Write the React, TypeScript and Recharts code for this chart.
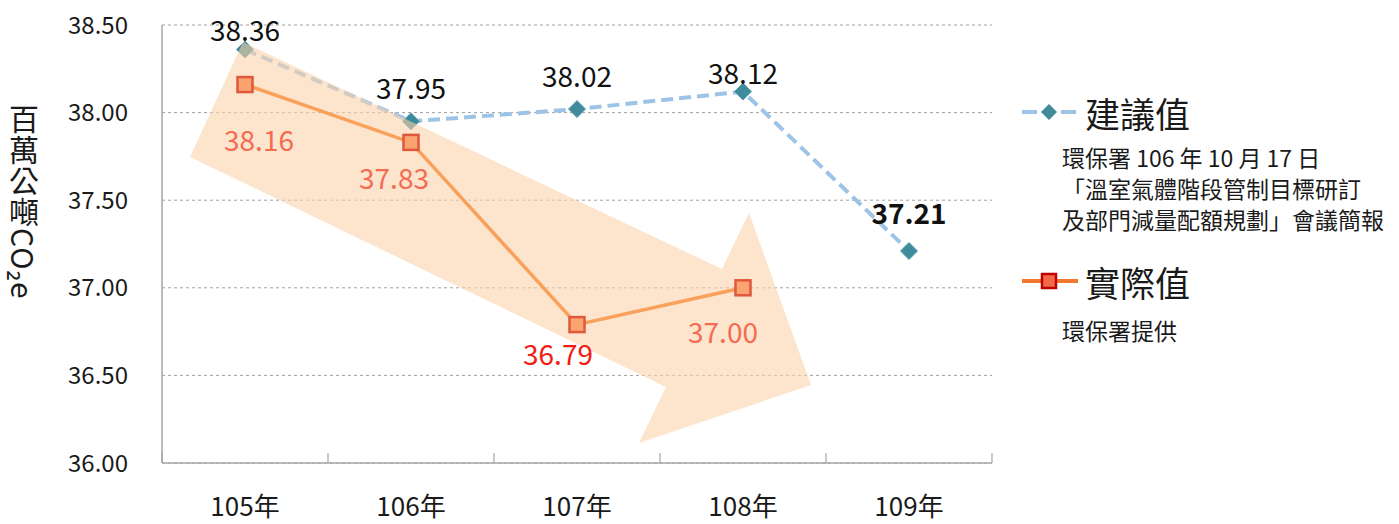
import React from "react";
import {
  ComposedChart,
  Line,
  XAxis,
  YAxis,
  CartesianGrid,
  LabelList,
  Customized,
} from "recharts";

// ---------- data ----------
const categories = ["105年", "106年", "107年", "108年", "109年"];
const suggested = [38.36, 37.95, 38.02, 38.12, 37.21];
const actual: (number | null)[] = [38.16, 37.83, 36.79, 37.0, null];
const yTicks = [36.0, 36.5, 37.0, 37.5, 38.0, 38.5];

// trend arrow annotation, in data space (category index, value)
const arrowIdx = [-0.012, 2.873, 3.036, 3.41, 2.373, 2.536, -0.331];
const arrowVal = [38.403, 37.107, 37.427, 36.445, 36.114, 36.434, 37.747];

const chartData = categories.map((c, i) => ({
  year: c,
  suggested: suggested[i],
  actual: actual[i],
}));

// ---------- layout constants ----------
const FONT = '"Noto Sans CJK TC", "Noto Sans", sans-serif';
const CHART_W = 1000;
const CHART_H = 524;
const MARGIN = { top: 25, right: 8, bottom: 0, left: 0 };
const Y_AXIS_W = 162;
const X_AXIS_H = 61;
const PLOT_L = MARGIN.left + Y_AXIS_W;
const PLOT_R = CHART_W - MARGIN.right;
const PLOT_T = MARGIN.top;
const PLOT_B = CHART_H - MARGIN.bottom - X_AXIS_H;
const BAND = (PLOT_R - PLOT_L) / categories.length;
const Y_MIN = 36;
const Y_MAX = 38.5;

const px = (i: number) => PLOT_L + (i + 0.5) * BAND;
const py = (v: number) => PLOT_T + ((Y_MAX - v) / (Y_MAX - Y_MIN)) * (PLOT_B - PLOT_T);

// label styling (offsets)
const blueDy = [-21, -34, -34, -20, -39];
const orangeDx = [14, -17, -19, -20];
const orangeDy = [54, 35, 28, 43];
const orangeColors = ["#f46b52", "#f46b52", "#f21c14", "#f46b52"];

const TrendArrow = () => {
  const pts = arrowIdx.map((i, k) => `${px(i)},${py(arrowVal[k])}`).join(" ");
  return <polygon points={pts} fill="#fbd0a8" fillOpacity={0.58} stroke="none" />;
};

const XTick = (props: any) => {
  const { x, payload, index } = props;
  return (
    <g>
      <line x1={x - BAND / 2} x2={x - BAND / 2} y1={PLOT_B} y2={PLOT_B - 10} stroke="#a6a6a6" strokeWidth={1.2} />
      {index === categories.length - 1 && (
        <line x1={x + BAND / 2} x2={x + BAND / 2} y1={PLOT_B} y2={PLOT_B - 10} stroke="#a6a6a6" strokeWidth={1.2} />
      )}
      <text
        x={x}
        y={PLOT_B + 53}
        textAnchor="middle"
        fontSize={26}
        fontFamily={FONT}
        fill="#1a1a1a"
      >
        {payload.value}
      </text>
    </g>
  );
};

const Diamond = (props: any) => {
  const { cx, cy } = props;
  if (cx == null || cy == null) return null;
  const r = 8.5;
  return (
    <polygon
      points={`${cx},${cy - r} ${cx + r},${cy} ${cx},${cy + r} ${cx - r},${cy}`}
      fill="#3f8a9b"
      stroke="#5aa0b0"
      strokeWidth={1}
    />
  );
};

const Square = (props: any) => {
  const { cx, cy } = props;
  if (cx == null || cy == null) return null;
  const s = 15;
  return (
    <rect x={cx - s / 2} y={cy - s / 2} width={s} height={s} fill="#fba46f" stroke="#e0583c" strokeWidth={2.5} />
  );
};

const BlueLabel = (props: any) => {
  const { x, y, value, index } = props;
  return (
    <text
      x={x}
      y={y + blueDy[index]}
      textAnchor="middle"
      dominantBaseline="central"
      fontSize={28}
      fontFamily={FONT}
      fontWeight={index === 4 ? 700 : 400}
      fill="#111"
    >
      {Number(value).toFixed(2)}
    </text>
  );
};

const OrangeLabel = (props: any) => {
  const { x, y, value, index } = props;
  if (value == null) return null;
  return (
    <text
      x={x + orangeDx[index]}
      y={y + orangeDy[index]}
      textAnchor="middle"
      dominantBaseline="central"
      fontSize={28}
      fontFamily={FONT}
      fill={orangeColors[index]}
    >
      {Number(value).toFixed(2)}
    </text>
  );
};

const layer: React.CSSProperties = { position: "absolute", left: 0, top: 0 };

export default function App() {
  return (
    <div
      style={{
        position: "absolute",
        left: 0,
        top: 0,
        width: 1399,
        height: 524,
        background: "#fff",
        fontFamily: FONT,
        overflow: "hidden",
      }}
    >
      {/* base chart: grid, axes, suggested line */}
      <div style={layer}>
        <ComposedChart width={CHART_W} height={CHART_H} data={chartData} margin={MARGIN}>
          <CartesianGrid horizontal vertical={false} stroke="#a0a0a0" strokeDasharray="3 3" />
          <XAxis
            dataKey="year"
            scale="band"
            height={X_AXIS_H}
            axisLine={{ stroke: "#a6a6a6", strokeWidth: 1.5 }}
            tickLine={false}
            tickSize={0}
            tickMargin={0}
            tick={<XTick />}
            interval={0}
          />
          <YAxis
            domain={[Y_MIN, Y_MAX]}
            ticks={yTicks}
            width={Y_AXIS_W}
            axisLine={{ stroke: "#a6a6a6", strokeWidth: 1.5 }}
            tickLine={false}
            tickSize={0}
            tickMargin={34}
            tickFormatter={(v: number) => v.toFixed(2)}
            tick={{ fontSize: 24, fill: "#1a1a1a", fontFamily: FONT }}
            allowDataOverflow
          />
          <Line
            dataKey="suggested"
            stroke="#9dc3e6"
            strokeWidth={4}
            strokeDasharray="12 6"
            dot={<Diamond />}
            activeDot={false}
            isAnimationActive={false}
          >
            <LabelList dataKey="suggested" content={<BlueLabel />} />
          </Line>
        </ComposedChart>
      </div>

      {/* overlay chart: trend arrow + actual line */}
      <div style={layer}>
        <ComposedChart width={CHART_W} height={CHART_H} data={chartData} margin={MARGIN}>
          <XAxis
            dataKey="year"
            scale="band"
            height={X_AXIS_H}
            axisLine={false}
            tickLine={false}
            tick={false}
          />
          <YAxis
            domain={[Y_MIN, Y_MAX]}
            ticks={yTicks}
            width={Y_AXIS_W}
            axisLine={false}
            tickLine={false}
            tick={false}
            allowDataOverflow
          />
          <Customized component={<TrendArrow />} />
          <Line
            dataKey="actual"
            stroke="#f9a05b"
            strokeWidth={3.5}
            dot={<Square />}
            activeDot={false}
            connectNulls={false}
            isAnimationActive={false}
          >
            <LabelList dataKey="actual" content={<OrangeLabel />} />
          </Line>
        </ComposedChart>
      </div>

      {/* Y axis title */}
      <div
        style={{
          position: "absolute",
          left: 6,
          top: 104,
          writingMode: "vertical-rl",
          fontSize: 30,
          lineHeight: "36px",
          letterSpacing: 1,
          color: "#1a1a1a",
        }}
      >
        百萬公噸CO₂e
      </div>

      {/* Legend */}
      <div style={{ position: "absolute", left: 1020, top: 90, width: 379 }}>
        <div style={{ display: "flex", alignItems: "center", height: 44 }}>
          <svg width={60} height={24} style={{ display: "block" }}>
            <line x1={2} x2={17} y1={12} y2={12} stroke="#9dc3e6" strokeWidth={4} />
            <line x1={41} x2={56} y1={12} y2={12} stroke="#9dc3e6" strokeWidth={4} />
            <polygon points="29,4 37,12 29,20 21,12" fill="#3f8a9b" />
          </svg>
          <span style={{ fontSize: 35, marginLeft: 5, color: "#1a1a1a" }}>建議值</span>
        </div>
        <div style={{ marginLeft: 42, marginTop: 8, fontSize: 23, lineHeight: "31px", color: "#1a1a1a", whiteSpace: "nowrap" }}>
          <div>環保署 106 年 10 月 17 日</div>
          <div>「溫室氣體階段管制目標研訂</div>
          <div>及部門減量配額規劃」會議簡報</div>
        </div>
        <div style={{ display: "flex", alignItems: "center", height: 44, marginTop: 24 }}>
          <svg width={60} height={24} style={{ display: "block" }}>
            <line x1={2} x2={58} y1={12} y2={12} stroke="#f07830" strokeWidth={4} />
            <rect x={22} y={5} width={14} height={14} fill="#f26a44" stroke="#c00000" strokeWidth={2.5} />
          </svg>
          <span style={{ fontSize: 35, marginLeft: 5, color: "#1a1a1a" }}>實際值</span>
        </div>
        <div style={{ marginLeft: 42, marginTop: 12, fontSize: 23, lineHeight: "31px", color: "#1a1a1a" }}>環保署提供</div>
      </div>
    </div>
  );
}
